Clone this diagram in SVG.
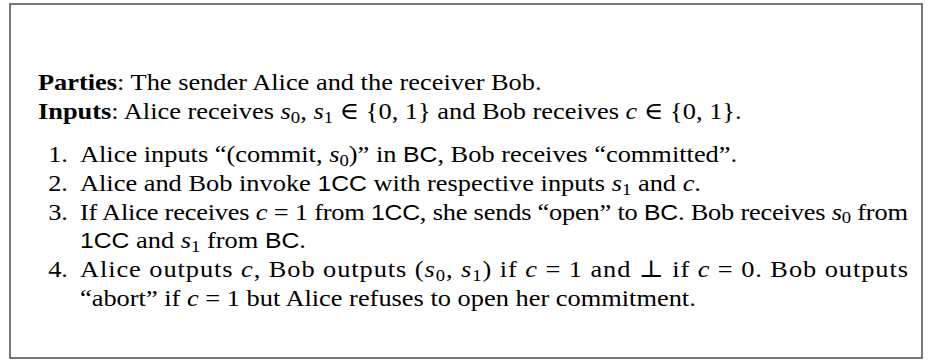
<svg xmlns="http://www.w3.org/2000/svg" width="936" height="362" viewBox="0 0 936 362">
<style>
.t{font-family:"Liberation Serif","Times New Roman","DejaVu Serif",serif;font-size:24px;fill:#000}
.b{font-weight:bold}
.m{font-style:italic}
.sf{font-family:"Liberation Sans",Arial,sans-serif;font-size:22.5px}
.sb{font-size:17px;baseline-shift:-4px}
.frame{fill:#fff;stroke:#555;stroke-width:1.6}
</style>
<rect width="936" height="362" fill="#fff"/>
<rect class="frame" x="10" y="4" width="912" height="354"/>
<g id="text" transform="scale(1.1,1)">
<g id="header">
<text class="t" x="34.5" y="90"><tspan class="b">Parties</tspan>: The sender Alice and the receiver Bob.</text>
<text class="t" x="34.5" y="118.8"><tspan class="b">Inputs</tspan>: Alice receives <tspan class="m">s</tspan><tspan class="sb">0</tspan>, <tspan class="m">s</tspan><tspan class="sb">1</tspan> ∈ {0, 1} and Bob receives <tspan class="m">c</tspan> ∈ {0, 1}.</text>
</g>
<g id="step1">
<text class="t" x="61.8" y="162" text-anchor="end">1.</text>
<text class="t" x="72.7" y="162">Alice inputs “(commit, <tspan class="m">s</tspan><tspan class="sb">0</tspan>)” in <tspan class="sf">BC</tspan>, Bob receives “committed”.</text>
</g>
<g id="step2">
<text class="t" x="61.8" y="190.8" text-anchor="end">2.</text>
<text class="t" x="72.7" y="190.8">Alice and Bob invoke <tspan class="sf">1CC</tspan> with respective inputs <tspan class="m">s</tspan><tspan class="sb">1</tspan> and <tspan class="m">c</tspan>.</text>
</g>
<g id="step3">
<text class="t" x="61.8" y="219.6" text-anchor="end">3.</text>
<text class="t" x="72.7" y="219.6" textLength="752.7" lengthAdjust="spacing">If Alice receives <tspan class="m">c</tspan> = 1 from <tspan class="sf">1CC</tspan>, she sends “open” to <tspan class="sf">BC</tspan>. Bob receives <tspan class="m">s</tspan><tspan class="sb">0</tspan> from</text>
<text class="t" x="72.7" y="248.4"><tspan class="sf">1CC</tspan> and <tspan class="m">s</tspan><tspan class="sb">1</tspan> from <tspan class="sf">BC</tspan>.</text>
</g>
<g id="step4">
<text class="t" x="61.8" y="277.2" text-anchor="end">4.</text>
<text class="t" x="72.7" y="277.2" textLength="752.7" lengthAdjust="spacing">Alice outputs <tspan class="m">c</tspan>, Bob outputs (<tspan class="m">s</tspan><tspan class="sb">0</tspan>, <tspan class="m">s</tspan><tspan class="sb">1</tspan>) if <tspan class="m">c</tspan> = 1 and ⊥ if <tspan class="m">c</tspan> = 0. Bob outputs</text>
<text class="t" x="72.7" y="306">“abort” if <tspan class="m">c</tspan> = 1 but Alice refuses to open her commitment.</text>
</g>
</g>
</svg>
